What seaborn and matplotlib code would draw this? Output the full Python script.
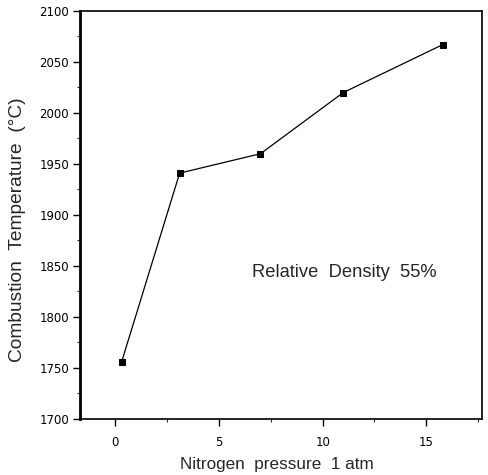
import matplotlib
matplotlib.use("Agg")
import matplotlib.pyplot as plt
import seaborn as sns
import pandas as pd
from matplotlib.ticker import MultipleLocator

# values
pressure = [0.3, 3.1, 7.0, 11.0, 15.8]
temperature = [1756, 1941, 1960, 2020, 2067]
x_ticks = [0, 5, 10, 15]
y_ticks = [1700, 1750, 1800, 1850, 1900, 1950, 2000, 2050, 2100]

sns.set_theme(style="ticks")
plt.rcParams['font.family'] = ['Liberation Sans', 'DejaVu Sans']

df = pd.DataFrame({'pressure': pressure, 'temperature': temperature})

fig = plt.figure(figsize=(4.89, 4.75), dpi=100)
ax = fig.add_axes([0.164, 0.118, 0.822, 0.859])

sns.lineplot(data=df, x='pressure', y='temperature', ax=ax, color='black',
             linewidth=0.9, marker='s', markersize=5, markeredgecolor='black')

ax.set_xlim(-1.7, 17.7)
ax.set_ylim(1700, 2100)
ax.set_xticks(x_ticks)
ax.set_yticks(y_ticks)
ax.xaxis.set_minor_locator(MultipleLocator(2.5))
ax.yaxis.set_minor_locator(MultipleLocator(25))
ax.tick_params(axis='both', which='major', direction='out', length=5, width=1,
               colors='black')
ax.tick_params(axis='x', which='major', pad=7)
ax.tick_params(axis='y', which='major', pad=3)
ax.tick_params(axis='both', which='minor', direction='out', length=2.5, width=0.8)
for lbl in ax.get_xticklabels() + ax.get_yticklabels():
    lbl.set_family('DejaVu Sans')
    lbl.set_fontsize(8.5)

for side in ['top', 'right', 'bottom']:
    ax.spines[side].set_linewidth(1.2)
    ax.spines[side].set_color('black')
ax.spines['left'].set_linewidth(2)
ax.spines['left'].set_color('black')

ax.set_xlabel("Nitrogen  pressure  1 atm", fontsize=12.3)
ax.xaxis.set_label_coords(0.49, -0.093)
ax.set_ylabel("Combustion  Temperature  (°C)", fontsize=13.8)
ax.yaxis.set_label_coords(-0.134, 0.463)

ax.text(6.6, 1844, "Relative  Density  55%", fontsize=13.2, ha='left', va='center')

fig.savefig("out.png", dpi=100)
